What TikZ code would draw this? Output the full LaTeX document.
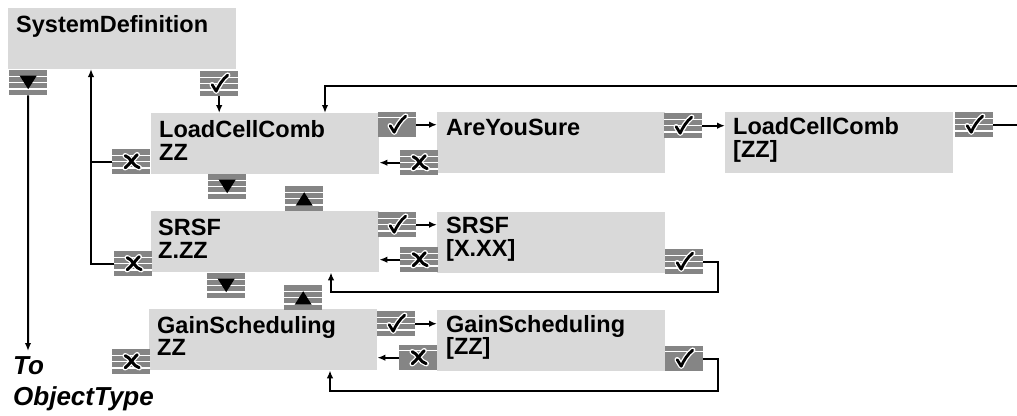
\documentclass[tikz,border=0pt]{standalone}
\usepackage{fontspec}
\setmainfont{Liberation Sans}
\usetikzlibrary{arrows.meta,calc}
\definecolor{boxgray}{HTML}{D9D9D9}
\definecolor{keygray}{HTML}{858585}
\newcommand\mykstripes{%
  \foreach \f in {0.25,0.5,0.75}{\draw[white,line width=1.1pt]
   ($(path picture bounding box.north west)!\f!(path picture bounding box.south west)$) -- ++(40,0);}}
\newcommand\myksolid{%
  \draw[white,line width=1.1pt] ([yshift=-5.5pt]path picture bounding box.north west) -- ++(40,0);}
\newcommand\mykcheck{%
  \begin{scope}[shift={(path picture bounding box.center)}]
    \draw[white,line width=5.5pt,line join=round,line cap=round] (-7,1) -- (-3,7.5) .. controls (0,1) and (3,-4) .. (8.5,-8.5);
    \draw[black,line width=2.8pt,line join=round,line cap=round] (-7,1) -- (-3,7.5) .. controls (0,1) and (3,-4) .. (8.5,-8.5);
  \end{scope}}
\newcommand\mykcross{%
  \begin{scope}[shift={(path picture bounding box.center)}]
    \draw[white,line width=5.5pt,line cap=round] (-6,-6) .. controls (-1,-5) and (2,5) .. (8,6);
    \draw[white,line width=5.5pt,line cap=round] (6,-7) .. controls (2,-3) and (-2,3) .. (-6,6);
    \draw[black,line width=3pt,line cap=round] (-6,-6) .. controls (-1,-5) and (2,5) .. (8,6);
    \draw[black,line width=3pt,line cap=round] (6,-7) .. controls (2,-3) and (-2,3) .. (-6,6);
  \end{scope}}
\newcommand\mykdown{%
  \begin{scope}[shift={(path picture bounding box.center)}]
    \fill[black] (-8.5,-7) -- (8.5,-7) -- (0,6.5) -- cycle;
  \end{scope}}
\newcommand\mykup{%
  \begin{scope}[shift={(path picture bounding box.center)}]
    \fill[black] (-8.5,7) -- (8.5,7) -- (0,-6.5) -- cycle;
  \end{scope}}
\tikzset{
  box/.style={anchor=north west, fill=boxgray, draw=none, inner sep=0, minimum width=228pt, minimum height=61pt},
  txt/.style={anchor=base west, inner sep=0, font=\fontsize{23.5}{23.5}\selectfont\bfseries},
  itxt/.style={anchor=base west, inner sep=0, font=\fontsize{26}{26}\selectfont\bfseries\itshape},
  key/.style={anchor=north west, fill=keygray, draw=none, inner sep=0, minimum width=38pt, minimum height=25pt},
  keyst/.style={key, path picture={\mykstripes #1}},
  keysol/.style={key, path picture={\myksolid #1}},
  arr/.style={-{Latex[length=8pt,width=6.5pt]}, line width=2pt},
  ln/.style={line width=2pt}
}
\begin{document}
\begin{tikzpicture}[x=1pt,y=-1pt]
\useasboundingbox (0,0) rectangle (1017,415);
\clip (0,0) rectangle (1017,415);
% boxes
\node[box] (sysdef) at (8,8) {};
\node[box] (lcc) at (151,113) {};
\node[box] (ays) at (437,112) {};
\node[box] (lcczz) at (725,112) {};
\node[box] (srsf) at (151,211) {};
\node[box] (srsfxx) at (437,212) {};
\node[box] (gs) at (149,309) {};
\node[box] (gszz) at (437,310) {};
% texts
\node[txt] (t1) at (16,32) {SystemDefinition};
\node[txt] (t2a) at (159,137) {LoadCellComb};
\node[txt] (t2b) at (159,160) {ZZ};
\node[txt] (t3) at (446,135) {AreYouSure};
\node[txt] (t4a) at (733,134) {LoadCellComb};
\node[txt] (t4b) at (733,157) {[ZZ]};
\node[txt] (t5a) at (158,235) {SRSF};
\node[txt] (t5b) at (158,258) {Z.ZZ};
\node[txt] (t6a) at (446,233) {SRSF};
\node[txt] (t6b) at (446,256) {[X.XX]};
\node[txt] (t7a) at (157,333) {GainScheduling};
\node[txt] (t7b) at (157,355) {ZZ};
\node[txt] (t8a) at (446,332) {GainScheduling};
\node[txt] (t8b) at (446,354) {[ZZ]};
\node[itxt] (to1) at (13,374) {To};
\node[itxt] (to2) at (13,405) {ObjectType};
% keys
\node[keyst=\mykdown] (sysdown) at (9,70) {};
\node[keyst=\mykcheck] (syschk) at (200,71) {};
\node[keyst=\mykcross] (lccx) at (112,149) {};
\node[keyst=\mykdown] (lccdown) at (208,174) {};
\node[keyst=\mykup] (lccup) at (285,186) {};
\node[keysol=\mykcheck] (lccchk) at (378,112) {};
\node[keyst=\mykcross] (aysx) at (400,150) {};
\node[keyst=\mykcheck] (ayschk) at (664,113) {};
\node[keyst=\mykcheck] (lcczzchk) at (955,112) {};
\node[keyst=\mykcross] (srsfx) at (114,251) {};
\node[keyst=\mykdown] (srsfdown) at (207,273) {};
\node[keyst=\mykup] (gsup) at (284,285) {};
\node[keyst=\mykcross] (gsx) at (112,349) {};
\node[keyst=\mykcheck] (srsfchk) at (378,212) {};
\node[keyst=\mykcross] (srsfxxx) at (400,247) {};
\node[keyst=\mykcheck] (srsfxxchk) at (665,249) {};
\node[keyst=\mykcheck] (gschk) at (377,311) {};
\node[keysol=\mykcross] (gszzx) at (399,345) {};
\node[keysol=\mykcheck] (gszzchk) at (665,346) {};
% coordinates
\coordinate (toobj) at (28,351);
\coordinate (upt) at (91,69);
\coordinate (topr) at (1030,86);
\coordinate (topl) at (325,86);
\coordinate (sr1) at (718,292);
\coordinate (sr2) at (331,292);
\coordinate (gs1) at (718,391);
\coordinate (gs2) at (330,391);
% connectors
\draw[arr] (sysdown.south) -- (toobj);
\draw[arr] (srsfx.west) -| (upt);
\draw[ln] (lccx.west) -- (lccx.west -| upt);
\draw[arr] (syschk.south) -- (syschk.south |- lcc.north);
\draw[arr] (lcczzchk.east) -| (topr) -- (topl) -- (topl |- lcc.north);
\draw[arr] (lccchk.east) -- (lccchk.east -| ays.west);
\draw[arr] (aysx.west) -- (aysx.west -| lcc.east);
\draw[arr] (ayschk.east) -- (ayschk.east -| lcczz.west);
\draw[arr] (srsfchk.east) -- (srsfchk.east -| srsfxx.west);
\draw[arr] (srsfxxx.west) -- (srsfxxx.west -| srsf.east);
\draw[arr] (srsfxxchk.east) -| (sr1) -- (sr2) -- (sr2 |- srsf.south);
\draw[arr] (gschk.east) -- (gschk.east -| gszz.west);
\draw[arr] (gszzx.west) -- (gszzx.west -| gs.east);
\draw[arr] (gszzchk.east) -| (gs1) -- (gs2) -- (gs2 |- gs.south);
\end{tikzpicture}
\end{document}
